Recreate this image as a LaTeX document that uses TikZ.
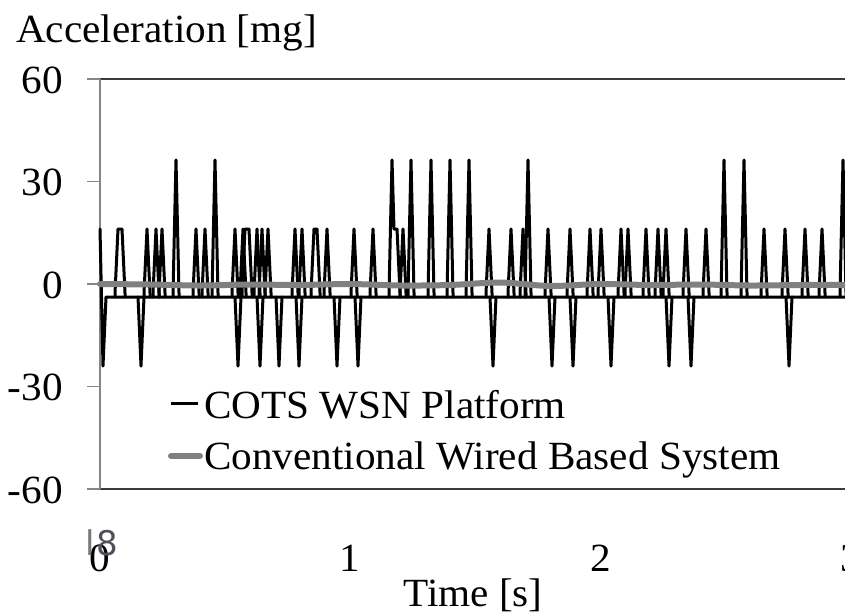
\documentclass[tikz,border=0pt]{standalone}
\usepackage{fontspec}
\setmainfont{Liberation Serif}[FakeStretch=1.03]
\newfontfamily\markfont{DejaVu Sans}
\definecolor{axisgray}{RGB}{134,134,134}
\definecolor{framegray}{RGB}{60,60,60}
\definecolor{wiredgray}{RGB}{128,128,128}
\definecolor{markgray}{RGB}{80,80,92}
\definecolor{marklight}{RGB}{120,120,128}
\begin{document}
\begin{tikzpicture}[x=1pt,y=-1pt,
  sig/.style={line width=3pt, line join=round, line cap=round},
  wired/.style={line width=6pt, wiredgray, line cap=round, line join=round},
  frame/.style={framegray, line width=1.5pt},
  axisline/.style={axisgray, line width=1.2pt},
  lbl/.style={inner sep=0pt, font=\fontsize{40}{46}\selectfont}]
\useasboundingbox (0,0) rectangle (845,614);
\clip (0,0) rectangle (845,614);

% plot frame and value axis
\draw[frame] (100,79) -- (845,79);
\draw[frame] (100,489) -- (845,489);
\draw[axisline] (100,79) -- (100,489);
\foreach \y in {79,181.5,284,386.5,489}
  \draw[axisline] (87,\y) -- (100,\y);

% value axis labels
\node[lbl, anchor=east] (y60)  at (63,80)    {60};
\node[lbl, anchor=east] (y30)  at (63,182)   {30};
\node[lbl, anchor=east] (y0)   at (63,285)   {0};
\node[lbl, anchor=east] (ym30) at (63,387)   {-30};
\node[lbl, anchor=east] (ym60) at (63,490)   {-60};

% time axis labels
\node[lbl] (x0) at (100,558) {0};
\node[lbl] (x1) at (350,558) {1};
\node[lbl] (x2) at (601,558) {2};
\node[lbl] (x3) at (851,558) {3};
\node[lbl, anchor=base] (xt) at (473,606) {Time [s]};
\node[lbl, anchor=base west] (yt) at (16,42) {Acceleration [mg]};

% WSN platform signal: baseline with single-sample spikes
\draw[sig] (100,229) -- (103,366) -- (106,297) -- (845,297);
\foreach \x in {147,156,162,196,205,235,243,257,262,268,295,302,327,354,373,
                403,489,511,523,548,570,590,601,621,628,646,658,666,686,706,
                764,785,805,822}
  \draw[sig] (\x-3,297) -- (\x-3,293) -- (\x,229) -- (\x+3,293) -- (\x+3,297);
\foreach \a/\b in {118/122,245/249,314/317}
  \draw[sig] (\a-3,297) -- (\a-3,293) -- (\a,229) -- (\b,229) -- (\b+3,293) -- (\b+3,297);
\foreach \x in {176,215,411,431,450,469,528,724,744,843}
  \draw[sig] (\x-3,297) -- (\x-3,293) -- (\x,160) -- (\x+3,293) -- (\x+3,297);
\draw[sig] (389,297) -- (389,293) -- (392,160) -- (394,229) -- (397,229) -- (400,293) -- (400,297);
\foreach \x in {141,238,260,279,299,337,358,493,552,573,611,669,691,789}
  \draw[sig] (\x-3,297) -- (\x,366) -- (\x+3,297);

% wired reference system trace
\draw[wired] plot[smooth] coordinates {(100,284) (150,284.5) (200,285.5) (250,284.5)
  (300,285) (350,284) (400,285.5) (450,285) (500,282.5) (550,286) (600,284)
  (650,285) (700,284.5) (750,285.5) (800,285) (845,285)};

% legend
\draw[sig, line cap=butt] (171,403) -- (198,403);
\node[lbl, anchor=base west] (leg1) at (204,418) {COTS WSN Platform};
\draw[wired] (171,456) -- (200,456);
\node[lbl, anchor=base west] (leg2) at (204,469) {Conventional Wired Based System};

% stray mark over the origin label
\node[inner sep=0pt, anchor=base west, font=\markfont\fontsize{34}{40}\selectfont] (mk) at (85,555)
  {\textcolor{marklight}{l}\hspace{2pt}\textcolor{markgray}{8}};
\end{tikzpicture}
\end{document}
